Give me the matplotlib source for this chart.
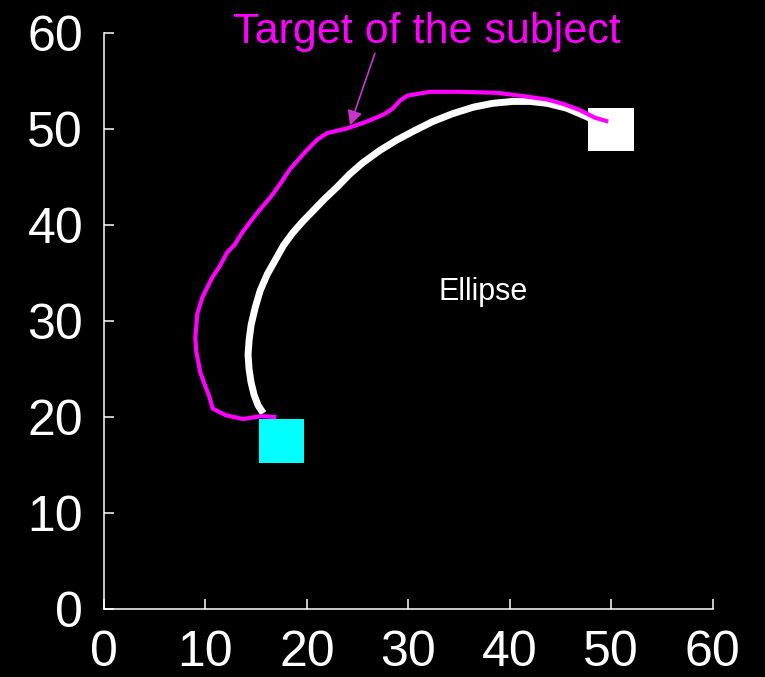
import matplotlib
matplotlib.use("Agg")
import matplotlib.pyplot as plt
from matplotlib.patches import Rectangle

plt.rcParams['font.family'] = ['Liberation Sans', 'DejaVu Sans']

# Reference ellipse arc (white)
ellipse_x = [15.7, 15.2, 14.8, 14.5, 14.3, 14.2, 14.3, 14.5, 14.9, 15.4, 16.1,
             16.9, 17.7, 18.6, 19.6, 20.7, 21.8, 23.0, 24.2, 25.5, 27.2, 28.9,
             30.5, 32.4, 34.3, 36.4, 38.3, 40.3, 42.0, 43.7, 45.6, 47.6, 49.3]
ellipse_y = [20.4, 21.2, 22.3, 23.6, 25.0, 26.5, 28.0, 29.6, 31.4, 33.2, 34.9,
             36.4, 37.9, 39.2, 40.4, 41.6, 42.8, 44.0, 45.3, 46.5, 47.8, 48.9,
             49.8, 50.8, 51.6, 52.3, 52.7, 52.9, 52.9, 52.7, 52.2, 51.3, 50.4]

# Subject's target trajectory (magenta)
target_x = [17.0, 15.5, 13.7, 12.0, 10.7, 10.4, 10.0, 9.5, 9.1, 9.0, 9.2, 9.7,
            10.7, 11.4, 12.1, 12.9, 13.6, 15.1, 16.4, 17.3, 18.3, 19.8, 21.0,
            22.0, 24.0, 25.9, 27.5, 28.4, 29.2, 29.9, 32.1, 35.1, 38.7, 41.0,
            43.7, 45.4, 46.9, 48.4, 49.7]
target_y = [20.0, 20.1, 19.8, 20.2, 20.9, 22.1, 23.2, 24.6, 26.8, 28.3, 30.8, 32.5,
            34.6, 35.7, 37.1, 38.0, 39.2, 41.3, 42.9, 44.2, 45.8, 47.6, 48.9,
            49.6, 50.1, 50.8, 51.5, 52.1, 53.0, 53.5, 53.9, 53.9, 53.8, 53.5,
            53.1, 52.6, 52.0, 51.2, 50.8]

# Start / end squares
start_xy = (17.5, 17.5)
end_xy = (50.0, 50.0)
square_side = 4.5

x_ticks = [0, 10, 20, 30, 40, 50, 60]
y_ticks = [0, 10, 20, 30, 40, 50, 60]

fig = plt.figure(figsize=(7.65, 6.77), dpi=100, facecolor='black')
ax = fig.add_axes([104 / 765, 1 - 609 / 677, (712.7 - 104) / 765, (609 - 33.3) / 677])
ax.set_facecolor('black')

for (cx, cy), col in [(start_xy, '#00ffff'), (end_xy, 'white')]:
    ax.add_patch(Rectangle((cx - square_side / 2, cy - square_side / 2),
                           square_side, square_side, facecolor=col,
                           edgecolor='none', zorder=2))

ax.plot(ellipse_x, ellipse_y, color='white', lw=5, solid_capstyle='butt',
        solid_joinstyle='round', zorder=3)
ax.plot(target_x, target_y, color='#ff00ff', lw=3, solid_capstyle='butt',
        solid_joinstyle='round', zorder=4)

ax.text(37.4, 33.0, 'Ellipse', color='white', fontsize=22, ha='center', va='center')

ax.text(31.8, 59.0, 'Target of the subject', color='#ff00ff', fontsize=31,
        ha='center', va='baseline', clip_on=False)
ax.annotate('', xy=(24.25, 50.4), xytext=(26.7, 57.9),
            arrowprops=dict(arrowstyle='-|>', color='#cc33cc', lw=1.2,
                            mutation_scale=22, shrinkA=0, shrinkB=0),
            annotation_clip=False)

ax.set_xlim(0, 60)
ax.set_ylim(0, 60)
ax.set_xticks(x_ticks)
ax.set_yticks(y_ticks)
ax.tick_params(direction='in', length=7.2, width=1.1, colors='white',
               labelsize=36, pad=15)
for side in ['top', 'right']:
    ax.spines[side].set_visible(False)
for side in ['left', 'bottom']:
    ax.spines[side].set_color('white')
    ax.spines[side].set_linewidth(1.1)

fig.savefig('out.png', dpi=100, facecolor='black')
